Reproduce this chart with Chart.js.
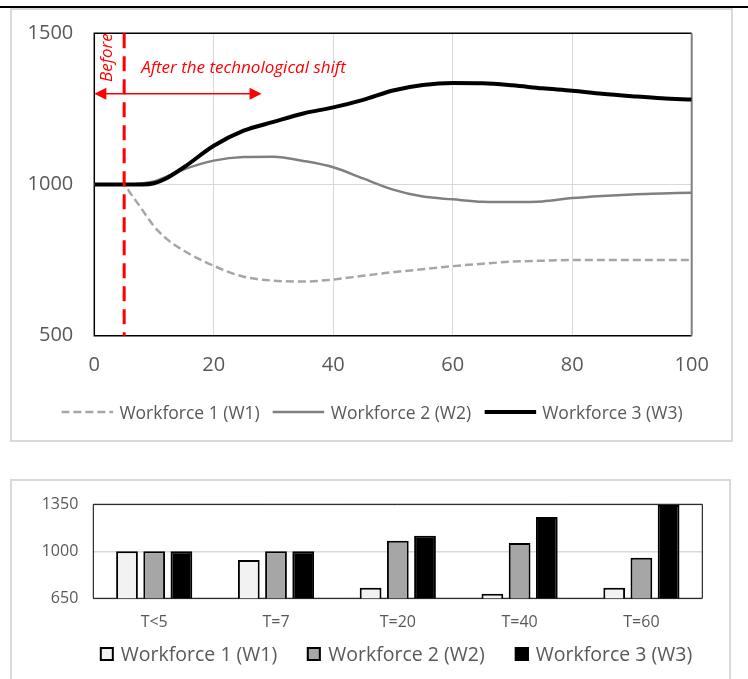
<!DOCTYPE html>
<html>
<head>
<meta charset="utf-8">
<script src="https://cdn.jsdelivr.net/npm/chart.js@4.4.1/dist/chart.umd.min.js"></script>
<style>
  body { margin: 0; background: #fff; width: 748px; height: 679px; overflow: hidden; position: relative; font-family: "Open Sans", sans-serif; }
  .rule { position: absolute; left: 0; top: 6px; width: 748px; height: 2px; background: #000; }
  .box { position: absolute; border: 2px solid #d9d9d9; }
  #topBox { left: 10px; top: 8px; width: 719px; height: 430px; }
  #botBox { left: 10px; top: 479px; width: 717px; height: 220px; }
  canvas { display: block; }
  .legend { position: absolute; display: flex; align-items: center; white-space: nowrap; color: #595959; transform: translateX(-50%); line-height: 24px; }
  .legend .item { display: flex; align-items: center; }
  #lineLegend { left: 372px; top: 400px; font-size: 17.5px; }
  #lineLegend .item + .item { margin-left: 13px; }
  #lineLegend svg { margin-right: 6px; }
  #barLegend { left: 396px; top: 642px; font-size: 19.5px; }
  #barLegend .item + .item { margin-left: 30px; }
  #barLegend i { display: inline-block; width: 10px; height: 10px; border: 2px solid #000; margin-right: 7px; }
</style>
</head>
<body>
<div class="rule"></div>
<div class="box" id="topBox"><canvas id="lineChart" width="719" height="430"></canvas></div>
<div class="box" id="botBox"><canvas id="barChart" width="717" height="198"></canvas></div>
<div class="legend" id="lineLegend"></div>
<div class="legend" id="barLegend"></div>

<script>
// --- data ---
const seriesNames = ['Workforce 1 (W1)', 'Workforce 2 (W2)', 'Workforce 3 (W3)'];

const timeSteps = [0, 5, 6, 7, 8, 10, 12, 15, 20, 25, 30, 35, 40, 45, 50, 55, 60, 65, 70, 75, 80, 85, 90, 95, 100];
const w1Path = [1000, 1000, 972, 945, 917, 862, 822, 781, 731, 695, 682, 679, 686, 698, 710, 720, 730, 738, 745, 748, 750, 750, 750, 750, 750];
const w2Path = [1000, 1000, 1000, 1002, 1004, 1010, 1025, 1050, 1079, 1091, 1092, 1078, 1057, 1020, 983, 960, 951, 943, 942, 944, 955, 962, 967, 970, 973];
const w3Path = [1000, 1000, 1000, 1000, 1000, 1004, 1020, 1057, 1128, 1178, 1207, 1235, 1255, 1280, 1311, 1329, 1336, 1335, 1328, 1318, 1310, 1300, 1292, 1285, 1281];

const lineXTicks = [0, 20, 40, 60, 80, 100];
const lineYTicks = [500, 1000, 1500];

const periods = ['T<5', 'T=7', 'T=20', 'T=40', 'T=60'];
const w1Bars = [1000, 935, 729, 684, 729];
const w2Bars = [1000, 1000, 1079, 1062, 952];
const w3Bars = [1000, 1000, 1116, 1255, 1345];
const barYTicks = [650, 1000, 1350];

// annotation anchors (in data units)
const shiftTime = 5;
const arrowEnd = 28;
const arrowLevel = 1300;

const textGrey = '#595959';
const font = 'Open Sans';

const fixedTicks = list => scale => { scale.ticks = list.map(v => ({ value: v })); };
const points = (xs, ys) => xs.map((x, i) => ({ x, y: ys[i] }));
const plain = v => String(v);
// keep the y axis a fixed width and stop its labels from pushing the plot down
const yFit = w => s => { s.width = w; s.paddingTop = 0; s.paddingBottom = 0; };

// plot border, drawn under the data
const plotFrame = {
  id: 'plotFrame',
  beforeDatasetsDraw(chart, args, opts) {
    const { ctx, chartArea: a } = chart;
    ctx.save();
    ctx.lineWidth = opts.width;
    ctx.strokeStyle = opts.color;
    ctx.beginPath();
    ctx.moveTo(a.right, a.top);
    ctx.lineTo(a.left, a.top);
    ctx.lineTo(a.left, a.bottom);
    ctx.lineTo(a.right, a.bottom);
    ctx.stroke();
    ctx.lineWidth = opts.rightWidth;
    ctx.strokeStyle = opts.rightColor;
    ctx.beginPath();
    ctx.moveTo(a.right, a.top);
    ctx.lineTo(a.right, a.bottom);
    ctx.stroke();
    ctx.restore();
  }
};

// red "before / after" marks
const shiftMarks = {
  id: 'shiftMarks',
  afterDatasetsDraw(chart) {
    const { ctx, chartArea: a, scales: { x, y } } = chart;
    const xs = x.getPixelForValue(shiftTime);
    const xe = x.getPixelForValue(arrowEnd);
    const ya = y.getPixelForValue(arrowLevel);
    ctx.save();
    ctx.strokeStyle = '#ff0000';
    ctx.fillStyle = '#ff0000';

    ctx.lineWidth = 3;
    ctx.setLineDash([15, 8]);
    ctx.beginPath();
    ctx.moveTo(xs, a.top);
    ctx.lineTo(xs, a.bottom);
    ctx.stroke();

    ctx.setLineDash([]);
    ctx.lineWidth = 1.5;
    ctx.beginPath();
    ctx.moveTo(a.left + 6, ya);
    ctx.lineTo(xe - 6, ya);
    ctx.stroke();
    ctx.beginPath();
    ctx.moveTo(a.left, ya); ctx.lineTo(a.left + 12, ya - 6); ctx.lineTo(a.left + 12, ya + 6);
    ctx.closePath(); ctx.fill();
    ctx.beginPath();
    ctx.moveTo(xe, ya); ctx.lineTo(xe - 12, ya - 6); ctx.lineTo(xe - 12, ya + 6);
    ctx.closePath(); ctx.fill();

    ctx.font = 'italic 17px "' + font + '"';
    ctx.textBaseline = 'middle';
    ctx.textAlign = 'left';
    ctx.fillText('After the technological shift', xs + 17, a.top + 35);

    ctx.translate(a.left + 13, a.top);
    ctx.rotate(-Math.PI / 2);
    ctx.textAlign = 'right';
    ctx.fillText('Before', 0, 0);
    ctx.restore();
  }
};

const lineChart = new Chart(document.getElementById('lineChart'), {
  type: 'line',
  data: {
    datasets: [
      { label: seriesNames[0], data: points(timeSteps, w1Path), borderColor: '#a6a6a6', borderWidth: 2.5, borderDash: [8, 4], order: 3 },
      { label: seriesNames[1], data: points(timeSteps, w2Path), borderColor: '#808080', borderWidth: 2.5, order: 2 },
      { label: seriesNames[2], data: points(timeSteps, w3Path), borderColor: '#000000', borderWidth: 4, order: 1 }
    ]
  },
  options: {
    responsive: false,
    animation: false,
    layout: { padding: { left: 0, top: 23.3, right: 39.3, bottom: 62.3 } },
    elements: { point: { radius: 0 }, line: { cubicInterpolationMode: 'monotone' } },
    scales: {
      x: {
        type: 'linear', min: lineXTicks[0], max: lineXTicks[lineXTicks.length - 1],
        afterBuildTicks: fixedTicks(lineXTicks),
        afterFit: s => { s.height = 42; },
        grid: { color: '#d9d9d9', lineWidth: 1, drawTicks: false },
        border: { display: false },
        ticks: { padding: 18, color: textGrey, font: { family: font, size: 20 }, callback: plain }
      },
      y: {
        min: lineYTicks[0], max: lineYTicks[lineYTicks.length - 1],
        afterBuildTicks: fixedTicks(lineYTicks),
        afterFit: yFit(82.3),
        grid: { color: '#d9d9d9', lineWidth: 1, drawTicks: false },
        border: { display: false },
        ticks: { padding: 21, color: textGrey, font: { family: font, size: 20 }, callback: plain }
      }
    },
    plugins: {
      legend: { display: false },
      tooltip: { enabled: false },
      plotFrame: { color: '#000', width: 1.5, rightColor: '#808080', rightWidth: 2 }
    }
  },
  plugins: [plotFrame, shiftMarks]
});

const barChart = new Chart(document.getElementById('barChart'), {
  type: 'bar',
  data: {
    labels: periods,
    datasets: [
      { label: seriesNames[0], data: w1Bars, backgroundColor: '#f2f2f2' },
      { label: seriesNames[1], data: w2Bars, backgroundColor: '#a6a6a6' },
      { label: seriesNames[2], data: w3Bars, backgroundColor: '#000000' }
    ]
  },
  options: {
    responsive: false,
    animation: false,
    datasets: { bar: { categoryPercentage: 0.67, barPercentage: 0.8, borderColor: '#000', borderWidth: 2, borderSkipped: false } },
    layout: { padding: { left: 0, top: 23.3, right: 26.7, bottom: 45.7 } },
    scales: {
      x: {
        afterFit: s => { s.height = 35; },
        grid: { display: false, drawTicks: false },
        border: { display: false },
        ticks: { padding: 14.6, color: textGrey, font: { family: font, size: 16 } }
      },
      y: {
        min: barYTicks[0], max: barYTicks[barYTicks.length - 1],
        afterBuildTicks: fixedTicks(barYTicks),
        afterFit: yFit(81.3),
        grid: { color: '#d9d9d9', lineWidth: 1.5, drawTicks: false },
        border: { display: false },
        ticks: { padding: 15, color: textGrey, font: { family: font, size: 16 }, callback: plain }
      }
    },
    plugins: {
      legend: { display: false },
      tooltip: { enabled: false },
      plotFrame: { color: '#000', width: 1, rightColor: '#000', rightWidth: 1 }
    }
  },
  plugins: [plotFrame]
});

// html legends built from the datasets
lineChart.data.datasets.forEach(ds => {
  const item = document.createElement('span');
  item.className = 'item';
  item.innerHTML = '<svg width="52" height="10"><line x1="0" y1="5" x2="52" y2="5" stroke="' + ds.borderColor +
    '" stroke-width="' + ds.borderWidth + '" stroke-dasharray="' + (ds.borderDash || []).join(' ') + '"/></svg>';
  item.append(ds.label);
  document.getElementById('lineLegend').appendChild(item);
});
barChart.data.datasets.forEach(ds => {
  const item = document.createElement('span');
  item.className = 'item';
  item.innerHTML = '<i style="background:' + ds.backgroundColor + '"></i>';
  item.append(ds.label);
  document.getElementById('barLegend').appendChild(item);
});
</script>
</body>
</html>
